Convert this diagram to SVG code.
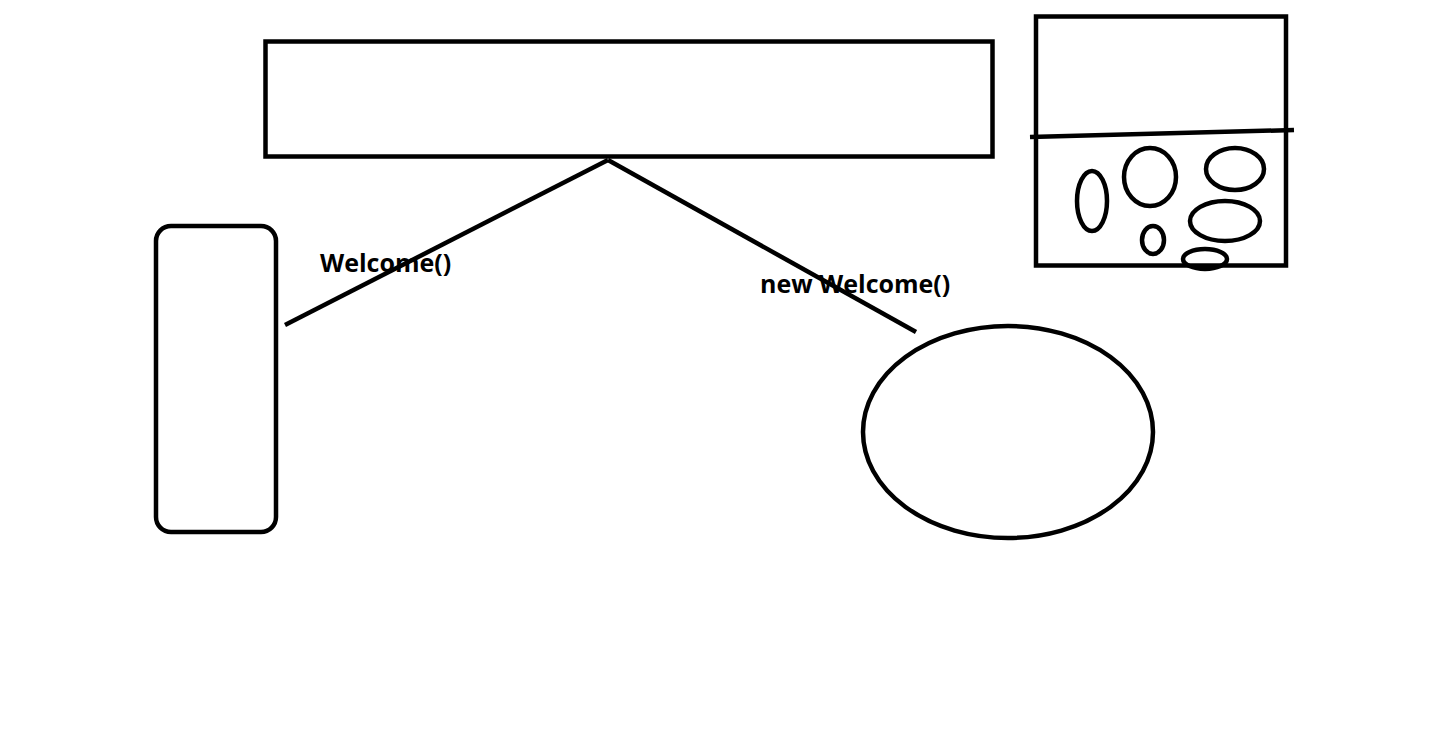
<svg xmlns="http://www.w3.org/2000/svg" width="1442" height="731" viewBox="0 0 1442 731">
<style>
.s{fill:none;stroke:#000;stroke-width:4.5}
.t{font-family:"Open Sans","Noto Sans",sans-serif;font-weight:bold;font-size:25px;fill:#000}
</style>
<rect width="1442" height="731" fill="#fff"/>
<g id="base-class"><rect class="s" x="265.5" y="41.5" width="727" height="115"/></g>
<g id="heap">
<rect class="s" x="1036" y="16.5" width="250" height="249"/>
<line class="s" x1="1030" y1="137" x2="1294" y2="130"/>
<ellipse class="s" cx="1092" cy="201" rx="15" ry="30"/>
<ellipse class="s" cx="1150" cy="177" rx="26" ry="29"/>
<ellipse class="s" cx="1235" cy="169" rx="29" ry="21"/>
<ellipse class="s" cx="1225" cy="221" rx="35" ry="20"/>
<ellipse class="s" cx="1153" cy="240" rx="11" ry="14"/>
<ellipse class="s" cx="1205" cy="259" rx="22" ry="10"/>
</g>
<g id="left-node"><rect class="s" x="156" y="226" width="120" height="306" rx="15"/></g>
<g id="right-node"><ellipse class="s" cx="1008" cy="432" rx="145" ry="106"/></g>
<g id="connectors">
<line class="s" x1="608" y1="160" x2="285" y2="325"/>
<line class="s" x1="608" y1="160" x2="916" y2="332"/>
</g>
<g id="labels">
<text class="t" x="320" y="272">Welcome()</text>
<text class="t" x="760" y="293">new Welcome()</text>
</g>
</svg>
